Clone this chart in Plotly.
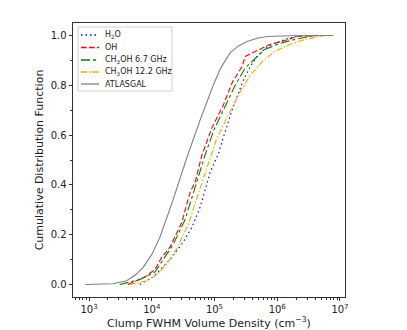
import plotly.graph_objects as go

# log10 of density (cm^-3) and cumulative fraction
h2o_logx = [3.81, 4.02, 4.29, 4.50, 4.64, 4.77, 4.93, 5.07, 5.14, 5.28, 5.45, 5.57, 5.68, 5.84, 6.12, 6.36]
h2o_cdf = [0.0, 0.03, 0.10, 0.17, 0.23, 0.31, 0.45, 0.53, 0.59, 0.70, 0.815, 0.875, 0.916, 0.956, 0.984, 1.0]

oh_logx = [3.62, 3.89, 4.05, 4.16, 4.29, 4.48, 4.61, 4.69, 4.80, 4.96, 5.14, 5.29, 5.44, 5.49, 5.72, 5.88, 6.08, 6.31, 6.68]
oh_cdf = [0.0, 0.03, 0.06, 0.11, 0.15, 0.25, 0.37, 0.41, 0.52, 0.63, 0.72, 0.815, 0.875, 0.916, 0.944, 0.964, 0.976, 0.996, 1.0]

m67_logx = [3.49, 3.81, 4.05, 4.21, 4.34, 4.53, 4.66, 4.74, 4.85, 4.99, 5.17, 5.33, 5.49, 5.65, 5.80, 6.04, 6.28, 6.60]
m67_cdf = [0.0, 0.02, 0.05, 0.11, 0.16, 0.26, 0.37, 0.43, 0.52, 0.62, 0.715, 0.80, 0.87, 0.91, 0.944, 0.968, 0.984, 1.0]

m122_logx = [3.65, 3.94, 4.10, 4.26, 4.39, 4.58, 4.71, 4.80, 4.90, 5.04, 5.22, 5.41, 5.57, 5.76, 5.96, 6.20, 6.44, 6.76]
m122_cdf = [0.0, 0.016, 0.044, 0.09, 0.14, 0.24, 0.34, 0.41, 0.49, 0.59, 0.68, 0.775, 0.84, 0.895, 0.936, 0.964, 0.984, 1.0]

atl_logx = [2.94, 3.38, 3.60, 3.75, 3.86, 4.00, 4.13, 4.34, 4.56, 4.77, 4.98, 5.10, 5.25, 5.38, 5.52, 5.68, 5.84, 6.20, 6.89]
atl_cdf = [0.0, 0.003, 0.015, 0.04, 0.068, 0.12, 0.19, 0.34, 0.51, 0.66, 0.80, 0.87, 0.93, 0.958, 0.976, 0.989, 0.996, 0.999, 1.0]

series_names = ["H<sub>2</sub>O", "OH", "CH<sub>3</sub>OH 6.7 GHz", "CH<sub>3</sub>OH 12.2 GHz", "ATLASGAL"]

x_tickvals = [1e3, 1e4, 1e5, 1e6, 1e7]
x_ticktext = ["10<sup>3</sup>", "10<sup>4</sup>", "10<sup>5</sup>", "10<sup>6</sup>", "10<sup>7</sup>"]
y_tickvals = [0, 0.2, 0.4, 0.6, 0.8, 1.0]
y_ticktext = ["0.0", "0.2", "0.4", "0.6", "0.8", "1.0"]


def tolin(v):
    return [10 ** a for a in v]


# page offset of the figure (default body margin)
OFF = 8
W, H = 407, 330
# desired plot area on the page: x 73..345, y 23..297
L = 73 - OFF
T = 23 - OFF
R = W - (345 - OFF)
B = H - (297 - OFF)
PW, PH = W - L - R, H - T - B


def px2paper(px, py):
    # page pixel -> paper fraction
    return (px - OFF - L) / PW, (H - B - (py - OFF)) / PH


fig = go.Figure()
styles = [
    ("#0000ff", "1.5px,3px"),
    ("#ff0000", "5.5px,2.5px"),
    ("#008000", "dashdot"),
    ("#ffa500", "6px,2px,1.5px,2px"),
    ("#808080", "solid"),
]
data = [(h2o_logx, h2o_cdf), (oh_logx, oh_cdf), (m67_logx, m67_cdf),
        (m122_logx, m122_cdf), (atl_logx, atl_cdf)]
for name, (lx, cy), (col, dash) in zip(series_names, data, styles):
    fig.add_trace(go.Scatter(
        x=tolin(lx), y=cy, mode="lines", name=name, showlegend=False,
        line=dict(color=col, dash=dash, width=1.1),
    ))

# hand-built legend box (matplotlib style)
x0, y0 = px2paper(78, 27)
x1, y1 = px2paper(172, 91)
fig.add_shape(type="rect", xref="paper", yref="paper", x0=x0, y0=y1, x1=x1, y1=y0,
              line=dict(color="#d0d0d0", width=1), fillcolor="rgba(255,255,255,0.8)", layer="above")
row_y = [35, 47.5, 60, 72, 84]
for name, (col, dash), ry in zip(series_names, styles, row_y):
    ax0, ay = px2paper(81, ry)
    ax1, _ = px2paper(99, ry)
    fig.add_shape(type="line", xref="paper", yref="paper", x0=ax0, y0=ay, x1=ax1, y1=ay,
                  line=dict(color=col, dash=dash, width=1.3), layer="above")
    tx, _ = px2paper(104, ry)
    fig.add_annotation(xref="paper", yref="paper", x=tx, y=ay, text=name, showarrow=False,
                       xanchor="left", yanchor="middle", xshift=-1,
                       font=dict(size=8, color="#222"))

minor_x = [m * 10 ** d for d in range(2, 8) for m in range(2, 10)]

fig.update_layout(
    width=W, height=H,
    margin=dict(l=L, r=R, t=T, b=B, autoexpand=False),
    paper_bgcolor="white", plot_bgcolor="white",
    font=dict(family="DejaVu Sans", size=10, color="#222"),
    showlegend=False,
    xaxis=dict(
        type="log", range=[2.745, 7.08], automargin=False,
        tickmode="array", tickvals=x_tickvals, ticktext=x_ticktext,
        ticks="outside", ticklen=3.5, tickcolor="#333", tickwidth=0.8,
        showline=True, linecolor="#333", linewidth=0.8, mirror=True,
        showgrid=False, zeroline=False,
        minor=dict(tickvals=minor_x, ticks="outside", ticklen=2, tickcolor="#333", showgrid=False),
        title=dict(text="Clump FWHM Volume Density (cm<sup>\u22123</sup>)", font=dict(size=11), standoff=3),
        tickfont=dict(size=10),
    ),
    yaxis=dict(
        range=[-0.05, 1.05], automargin=False,
        tickmode="array", tickvals=y_tickvals, ticktext=y_ticktext,
        ticks="outside", ticklen=3.5, tickcolor="#333", tickwidth=0.8,
        showline=True, linecolor="#333", linewidth=0.8, mirror=True,
        showgrid=False, zeroline=False,
        minor=dict(tickvals=[0.1, 0.3, 0.5, 0.7, 0.9], ticks="outside", ticklen=2, tickcolor="#333", showgrid=False),
        title=dict(text="Cumulative Distribution Function", font=dict(size=11), standoff=4),
        tickfont=dict(size=10),
    ),
)

fig.write_html("out.html")
